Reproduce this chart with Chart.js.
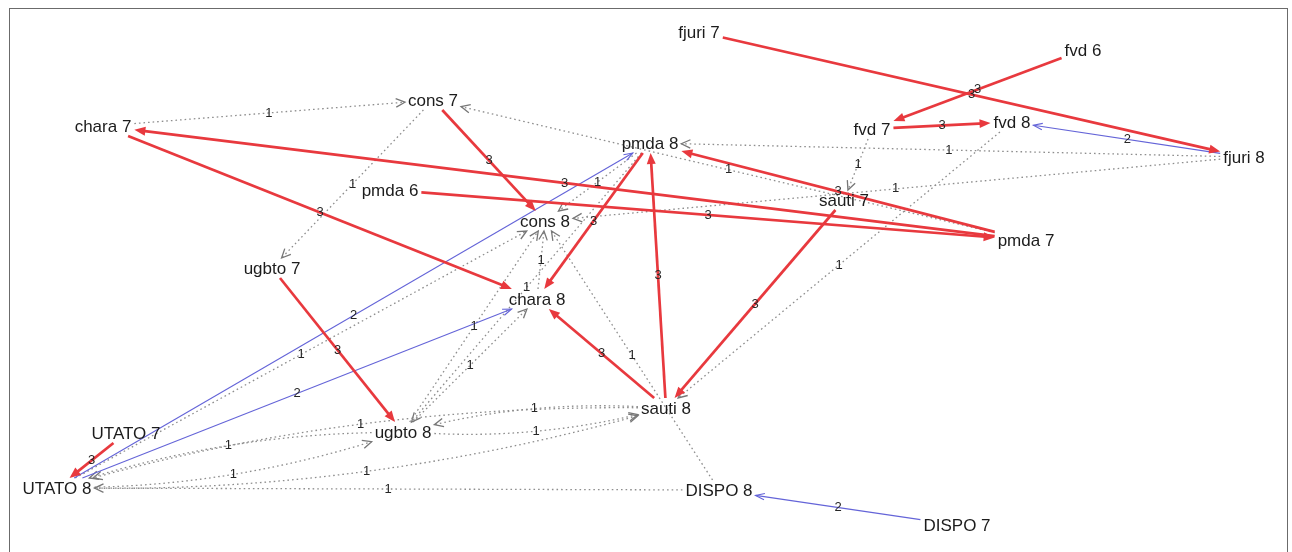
<!DOCTYPE html>
<html>
<head>
<meta charset="utf-8">
<script src="https://cdn.jsdelivr.net/npm/chart.js@4.4.1/dist/chart.umd.min.js"></script>
<style>
  html, body { margin: 0; padding: 0; background: #fff; }
  #wrap { position: relative; width: 1292px; height: 552px; overflow: hidden; }
  #frame { position: absolute; left: 9px; top: 8px; width: 1279px; height: 570px; border: 1px solid #6b6b6b; box-sizing: border-box; }
  #net { position: absolute; left: 0; top: 0; }
</style>
</head>
<body>
<div id="wrap">
  <div id="frame"></div>
  <canvas id="net" width="1292" height="552"></canvas>
</div>
<script>
// Network of transitions, drawn on a plain linear x/y layout.

const nodeNames = ['fjuri 7', 'fvd 6', 'cons 7', 'chara 7', 'pmda 8', 'fvd 7', 'fvd 8', 'fjuri 8',
  'pmda 6', 'sauti 7', 'cons 8', 'pmda 7', 'ugbto 7', 'chara 8', 'sauti 8', 'ugbto 8',
  'UTATO 7', 'UTATO 8', 'DISPO 8', 'DISPO 7'];
const nodeX = [699, 1083, 433, 103, 650, 872, 1012, 1244, 390, 844, 545, 1026, 272, 537, 666, 403, 126, 57, 719, 957];
const nodeY = [32, 50, 100, 126, 143, 129, 122, 157, 190, 200, 221, 240, 268, 299, 408, 432, 433, 488, 490, 525];

const edgeFrom = [
  'fjuri 7', 'fvd 6', 'fvd 7', 'cons 7', 'chara 7', 'pmda 7', 'pmda 6', 'pmda 7', 'sauti 7', 'sauti 8',
  'pmda 8', 'sauti 8', 'ugbto 7', 'UTATO 7',
  'fjuri 8', 'UTATO 8', 'UTATO 8', 'DISPO 7',
  'chara 7', 'pmda 7', 'cons 7', 'fjuri 8', 'fjuri 8', 'fvd 7', 'fvd 8', 'pmda 8', 'chara 8', 'UTATO 8',
  'ugbto 8', 'DISPO 8', 'ugbto 8', 'pmda 8', 'UTATO 8', 'ugbto 8', 'sauti 8', 'UTATO 8', 'sauti 8',
  'DISPO 8', 'ugbto 8'];
const edgeTo = [
  'fjuri 8', 'fvd 7', 'fvd 8', 'cons 8', 'chara 8', 'chara 7', 'pmda 7', 'pmda 8', 'sauti 8', 'pmda 8',
  'chara 8', 'chara 8', 'ugbto 8', 'UTATO 8',
  'fvd 8', 'pmda 8', 'chara 8', 'DISPO 8',
  'cons 7', 'cons 7', 'ugbto 7', 'pmda 8', 'cons 8', 'sauti 7', 'sauti 8', 'cons 8', 'cons 8', 'cons 8',
  'cons 8', 'cons 8', 'chara 8', 'ugbto 8', 'ugbto 8', 'sauti 8', 'ugbto 8', 'sauti 8', 'UTATO 8',
  'UTATO 8', 'UTATO 8'];
const edgeWeight = [
  3, 3, 3, 3, 3, 3, 3, 3, 3, 3, 3, 3, 3, 3,
  2, 2, 2, 2,
  1, 1, 1, 1, 1, 1, 1, 1, 1, 1, 1, 1, 1, 1, 1, 1, 1, 1, 1, 1, 1];

const NODE_FONT = '17px "Liberation Sans", Arial, sans-serif';
const LABEL_FONT = '13px "Liberation Sans", Arial, sans-serif';

const weightStyle = {
  3: {color: '#e8393e', width: 2.7, dash: [], head: 'filled', len: 11, half: 4.5},
  2: {color: '#6464d8', width: 1.1, dash: [], head: 'open', len: 9, half: 3.2},
  1: {color: '#8e8e8e', width: 1.3, dash: [1.6, 3], head: 'chevron', len: 9, half: 4.2, headColor: '#777'}
};

function clipToBox(cx, cy, hw, hh, ux, uy) {
  const tx = Math.abs(ux) > 1e-6 ? hw / Math.abs(ux) : Infinity;
  const ty = Math.abs(uy) > 1e-6 ? hh / Math.abs(uy) : Infinity;
  const t = Math.min(tx, ty);
  return [cx + ux * t, cy + uy * t];
}

function drawHead(ctx, x, y, ux, uy, st) {
  const bx = x - ux * st.len, by = y - uy * st.len;
  const nx = -uy * st.half, ny = ux * st.half;
  ctx.setLineDash([]);
  if (st.head === 'filled') {
    ctx.fillStyle = st.color;
    ctx.beginPath();
    ctx.moveTo(x, y);
    ctx.lineTo(bx + nx, by + ny);
    ctx.lineTo(bx - nx, by - ny);
    ctx.closePath();
    ctx.fill();
  } else {
    ctx.strokeStyle = st.headColor || st.color;
    ctx.lineWidth = st.head === 'chevron' ? 1.3 : st.width;
    ctx.beginPath();
    ctx.moveTo(bx + nx, by + ny);
    ctx.lineTo(x, y);
    ctx.lineTo(bx - nx, by - ny);
    ctx.stroke();
  }
}

const networkPlugin = {
  id: 'network',
  afterDatasetsDraw(chart) {
    const ctx = chart.ctx;
    const xs = chart.scales.x, ys = chart.scales.y;
    const idx = name => nodeNames.indexOf(name);
    const px = nodeX.map(v => xs.getPixelForValue(v));
    const py = nodeY.map(v => ys.getPixelForValue(v));
    ctx.save();
    ctx.font = NODE_FONT;
    const hw = nodeNames.map(n => ctx.measureText(n).width / 2 + 3);
    const hh = 10;

    const order = edgeWeight.map((w, i) => i).sort((a, b) => edgeWeight[a] - edgeWeight[b]);
    const labels = [];
    order.forEach(i => {
      const a = idx(edgeFrom[i]), b = idx(edgeTo[i]);
      const st = weightStyle[edgeWeight[i]];
      const mutual = edgeFrom.some((f, j) => f === edgeTo[i] && edgeTo[j] === edgeFrom[i]);
      const dx = px[b] - px[a], dy = py[b] - py[a];
      const L = Math.hypot(dx, dy);
      // control point: straight unless the pair runs both ways
      const bend = mutual ? 0.07 * L : 0;
      const cx = (px[a] + px[b]) / 2 + (-dy / L) * bend;
      const cy = (py[a] + py[b]) / 2 + (dx / L) * bend;
      let ux = cx - px[a], uy = cy - py[a];
      let ul = Math.hypot(ux, uy); ux /= ul; uy /= ul;
      const s = clipToBox(px[a], py[a], hw[a], hh, ux, uy);
      let vx = cx - px[b], vy = cy - py[b];
      let vl = Math.hypot(vx, vy); vx /= vl; vy /= vl;
      const e = clipToBox(px[b], py[b], hw[b], hh, vx, vy);

      ctx.strokeStyle = st.color;
      ctx.lineWidth = st.width;
      ctx.setLineDash(st.dash);
      ctx.beginPath();
      ctx.moveTo(s[0], s[1]);
      if (st.head === 'filled') {
        ctx.quadraticCurveTo(cx, cy, e[0] + vx * st.len * 0.6, e[1] + vy * st.len * 0.6);
      } else {
        ctx.quadraticCurveTo(cx, cy, e[0], e[1]);
      }
      ctx.stroke();
      drawHead(ctx, e[0], e[1], -vx, -vy, st);

      labels.push({
        x: 0.25 * s[0] + 0.5 * cx + 0.25 * e[0],
        y: 0.25 * s[1] + 0.5 * cy + 0.25 * e[1],
        text: String(edgeWeight[i])
      });
    });

    ctx.setLineDash([]);
    ctx.textAlign = 'center';
    ctx.textBaseline = 'middle';
    ctx.font = LABEL_FONT;
    ctx.fillStyle = '#262626';
    labels.forEach(l => ctx.fillText(l.text, l.x, l.y));

    ctx.font = NODE_FONT;
    ctx.fillStyle = '#1c1c1c';
    nodeNames.forEach((n, i) => ctx.fillText(n, px[i], py[i] + 1));
    ctx.restore();
  }
};

new Chart(document.getElementById('net'), {
  type: 'scatter',
  data: {
    datasets: [{
      label: 'nodes',
      data: nodeX.map((x, i) => ({x, y: nodeY[i]})),
      pointRadius: 0,
      pointHoverRadius: 0
    }]
  },
  options: {
    responsive: false,
    devicePixelRatio: 1,
    animation: false,
    events: [],
    layout: { padding: 0 },
    plugins: { legend: { display: false }, tooltip: { enabled: false } },
    scales: {
      x: { type: 'linear', min: 0, max: 1292, display: false },
      y: { type: 'linear', min: 0, max: 552, reverse: true, display: false }
    }
  },
  plugins: [networkPlugin]
});
</script>
</body>
</html>
